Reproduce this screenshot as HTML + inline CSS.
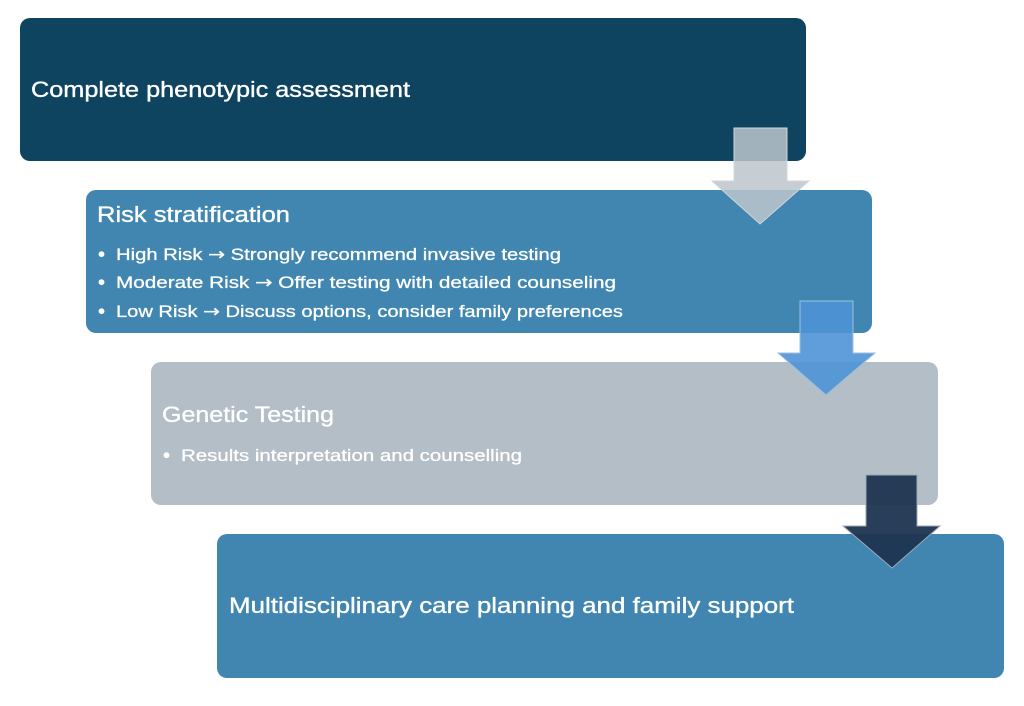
<!DOCTYPE html>
<html><head><meta charset="utf-8"><style>html,body{margin:0;padding:0;background:#fff;}</style></head>
<body>
<svg width="1024" height="701" viewBox="0 0 1024 701" xmlns="http://www.w3.org/2000/svg" font-family="Liberation Sans, sans-serif" fill="#fff">
<rect x="20" y="18" width="786" height="143" rx="10" fill="#0e4460"/>
<rect x="86" y="190" width="786" height="143" rx="10" fill="#4186b0"/>
<rect x="151" y="362" width="787" height="143" rx="10" fill="#b4bec7"/>
<rect x="217" y="534" width="787" height="144" rx="10" fill="#4186b0"/>

<polygon points="734,128 787,128 787,181 809,181 760,224 712,181 734,181" fill="#bcc5cd" fill-opacity="0.85" stroke="#d0d6dc" stroke-width="1"/>
<polygon points="800,301 853,301 853,353 875,353 826,395 778,353 800,353" fill="#4e93d6" fill-opacity="0.9" stroke="#9cc0e0" stroke-width="1"/>
<polygon points="866,475 917,475 917,526 940,526 892,568 843,526 866,526" fill="#1e3450" fill-opacity="0.95" stroke="#9aa8b8" stroke-width="1"/>

<g stroke="#fff" stroke-width="0.35">
<text x="31" y="97" font-size="22" textLength="379" lengthAdjust="spacingAndGlyphs">Complete phenotypic assessment</text>
<text x="97" y="222" font-size="22" textLength="193" lengthAdjust="spacingAndGlyphs">Risk stratification</text>
<text x="162" y="422" font-size="22" textLength="172" lengthAdjust="spacingAndGlyphs">Genetic Testing</text>
<text x="229" y="613" font-size="22" textLength="565" lengthAdjust="spacingAndGlyphs">Multidisciplinary care planning and family support</text>
<g font-size="17" stroke-width="0.3">
<text x="98" y="261" font-size="20">•</text>
<text x="116" y="260" textLength="445" lengthAdjust="spacingAndGlyphs">High Risk <tspan font-family="DejaVu Sans, sans-serif">→</tspan> Strongly recommend invasive testing</text>
<text x="98" y="289" font-size="20">•</text>
<text x="116" y="288" textLength="500" lengthAdjust="spacingAndGlyphs">Moderate Risk <tspan font-family="DejaVu Sans, sans-serif">→</tspan> Offer testing with detailed counseling</text>
<text x="98" y="318" font-size="20">•</text>
<text x="116" y="317" textLength="507" lengthAdjust="spacingAndGlyphs">Low Risk <tspan font-family="DejaVu Sans, sans-serif">→</tspan> Discuss options, consider family preferences</text>
<text x="163" y="462" font-size="20">•</text>
<text x="181" y="461" textLength="341" lengthAdjust="spacingAndGlyphs">Results interpretation and counselling</text>
</g>
</g>
</svg>
</body></html>
